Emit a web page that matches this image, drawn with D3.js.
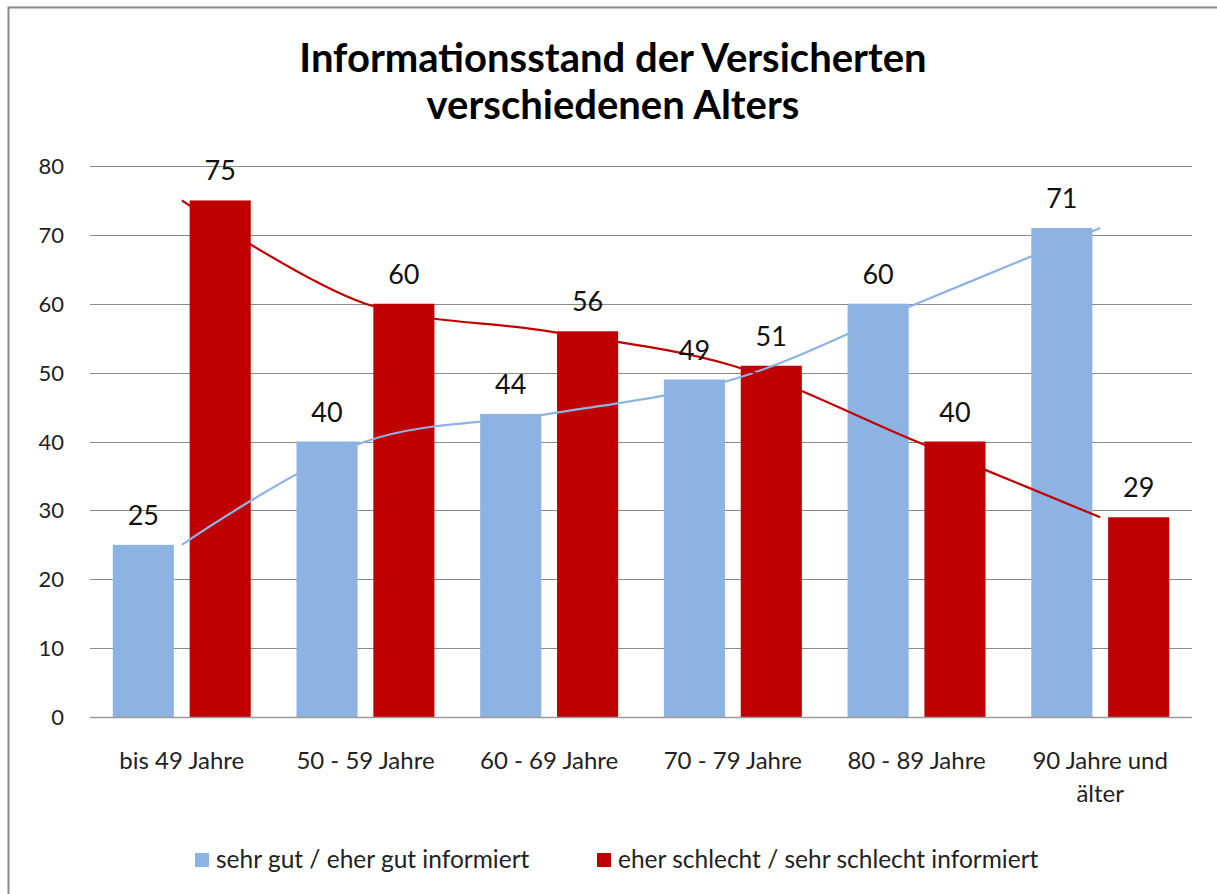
<!DOCTYPE html>
<html>
<head>
<meta charset="utf-8">
<script src="https://cdn.jsdelivr.net/npm/d3@7"></script>
<style>
  html, body { margin: 0; background: #fff; overflow: hidden; }
  svg { display: block; font-family: Lato, "Open Sans", sans-serif; }
</style>
</head>
<body>
<div id="chart"></div>
<script>
// data
var categories = ["bis 49 Jahre", "50 - 59 Jahre", "60 - 69 Jahre", "70 - 79 Jahre", "80 - 89 Jahre", "90 Jahre und älter"];
var gutValues = [25, 40, 44, 49, 60, 71];
var schlechtValues = [75, 60, 56, 51, 40, 29];
var seriesNames = ["sehr gut / eher gut informiert", "eher schlecht / sehr schlecht informiert"];
var yTicks = [0, 10, 20, 30, 40, 50, 60, 70, 80];
var titleLines = ["Informationsstand der Versicherten", "verschiedenen Alters"];

var width = 1217;
var height = 894;
var margin = { left: 90, right: 25, top: 166, bottom: 177 };
var colors = ["#8db3e2", "#c00000"];

var svg = d3.select('#chart')
    .append('svg')
    .attr('width', width)
    .attr('height', height)
    .style('overflow', 'hidden');

// frame (only top & left visible)
svg.append('rect')
    .attr('x', 8.5).attr('y', 7.5)
    .attr('width', width + 200).attr('height', height + 200)
    .attr('fill', 'none')
    .attr('stroke', '#8c8c8c')
    .attr('stroke-width', 2);

// title
svg.append('text')
    .attr('x', 613)
    .attr('text-anchor', 'middle')
    .attr('font-weight', 'bold')
    .style('font-size', '40px')
    .attr('fill', '#000')
    .selectAll('tspan')
    .data(titleLines)
    .enter()
    .append('tspan')
    .attr('x', 613)
    .attr('y', (d, i) => 72 + i * 47)
    .text(d => d);

var x = d3.scaleBand()
    .domain(categories)
    .range([margin.left, width - margin.right])
    .paddingInner(0.249)
    .paddingOuter(0.124);
var x0 = d3.scaleBand()
    .domain(categories)
    .range([margin.left, width - margin.right]);
var xs = d3.scaleBand()
    .domain([0, 1])
    .range([0, x.bandwidth()])
    .paddingInner(0.205);

var y = d3.scaleLinear()
    .domain([0, 80])
    .range([height - margin.bottom, margin.top]);

// gridlines
svg.append('g')
    .selectAll('line')
    .data(yTicks.slice(1))
    .enter()
    .append('line')
    .attr('x1', margin.left)
    .attr('x2', width - margin.right)
    .attr('y1', d => Math.round(y(d)) + 0.5)
    .attr('y2', d => Math.round(y(d)) + 0.5)
    .attr('stroke', '#8a8a8a')
    .attr('stroke-width', 1);

// y labels
svg.append('g')
    .selectAll('text')
    .data(yTicks)
    .enter()
    .append('text')
    .attr('x', 64)
    .attr('y', d => y(d) + 8)
    .attr('text-anchor', 'end')
    .style('font-size', '22px')
    .attr('fill', '#222')
    .text(d => d);

// bars
var series = [gutValues, schlechtValues];
series.forEach(function (vals, s) {
    svg.append('g')
        .selectAll('rect')
        .data(vals)
        .enter()
        .append('rect')
        .attr('x', (d, i) => x(categories[i]) + xs(s))
        .attr('y', d => y(d))
        .attr('width', xs.bandwidth())
        .attr('height', d => y(0) - y(d))
        .attr('fill', colors[s]);
});

// x axis line
svg.append('line')
    .attr('x1', margin.left)
    .attr('x2', width - margin.right)
    .attr('y1', y(0) + 0.5)
    .attr('y2', y(0) + 0.5)
    .attr('stroke', '#9a9a9a')
    .attr('stroke-width', 1.5);

// smoothed lines on top
var line = d3.line()
    .x((d, i) => x0(categories[i]) + x0.bandwidth() / 2)
    .y(d => y(d))
    .curve(d3.curveCatmullRom.alpha(0.5));
series.forEach(function (vals, s) {
    svg.append('path')
        .datum(vals)
        .attr('d', line)
        .attr('fill', 'none')
        .attr('stroke', colors[s])
        .attr('stroke-width', 2.2);
});

// data labels
series.forEach(function (vals, s) {
    svg.append('g')
        .selectAll('text')
        .data(vals)
        .enter()
        .append('text')
        .attr('x', (d, i) => x(categories[i]) + xs(s) + xs.bandwidth() / 2)
        .attr('y', d => y(d) - 20)
        .attr('text-anchor', 'middle')
        .style('font-size', '27px')
        .attr('fill', '#111')
        .text(d => d);
});

// category labels
var catLabels = svg.append('g')
    .selectAll('text')
    .data(categories)
    .enter()
    .append('text')
    .attr('text-anchor', 'middle')
    .style('font-size', '24px')
    .attr('fill', '#222');
catLabels.each(function (d) {
    var cx = x0(d) + x0.bandwidth() / 2;
    var parts = d == "90 Jahre und älter" ? ["90 Jahre und", "älter"] : [d];
    d3.select(this).selectAll('tspan')
        .data(parts)
        .enter()
        .append('tspan')
        .attr('x', cx)
        .attr('y', (p, i) => 769 + i * 33)
        .text(p => p);
});

// legend
var legendX = [195, 597];
seriesNames.forEach(function (name, s) {
    svg.append('rect')
        .attr('x', legendX[s])
        .attr('y', 853)
        .attr('width', 14)
        .attr('height', 14)
        .attr('fill', colors[s]);
    svg.append('text')
        .attr('x', legendX[s] + 21)
        .attr('y', 868)
        .style('font-size', '24.5px')
        .attr('fill', '#222')
        .text(name);
});
</script>
</body>
</html>
